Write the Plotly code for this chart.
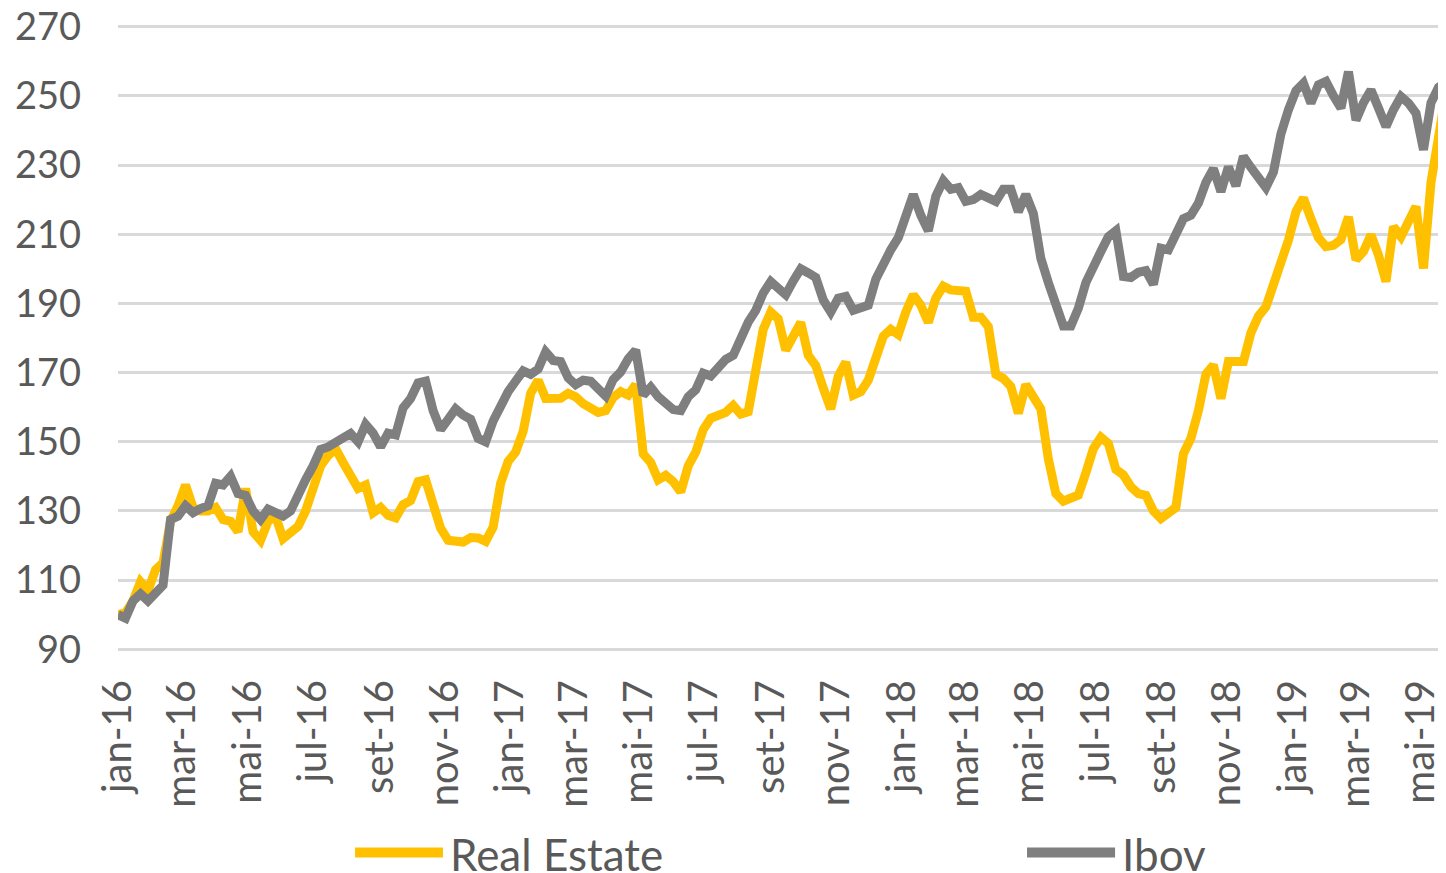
"""Real Estate vs Ibov, weekly index (base 100), jan-16 to mai-19"""

import pandas as pd
import plotly.graph_objects as go

# weekly closes, base 100 on 2016-01-01
dates = pd.date_range("2016-01-01", periods=178, freq="7D")

real_estate = [
    100, 100.5, 104, 109.5, 107, 113, 115, 127, 131.5, 137.5,
    131, 130, 130, 131, 127.5, 127, 124, 136.5, 124, 121.5,
    127, 128.5, 122, 123.8, 125.5, 130, 136.5, 143, 146, 148,
    144, 139.5, 136.5, 137.5, 129.5, 131, 128.7, 128, 131.8, 133,
    138.5, 139, 132, 125, 121.5, 121, 121, 122.3, 122.2, 121.2,
    125.3, 138, 144.3, 147, 153, 164, 167.8, 162.5, 162.5, 162.6,
    164, 163, 161, 159.8, 158.5, 159, 162.8, 164.5, 163.5, 166.5,
    146.5, 144, 139, 140.3, 138.5, 135.5, 143, 147, 153.5, 156.8,
    157.7, 158.5, 160.5, 158, 158.7, 172, 182.5, 187.5, 185.5, 176.5,
    181, 184.5, 175, 172, 165.5, 159.5, 169, 173, 163.5, 164.5,
    167.8, 175, 180.5, 182.5, 181, 187.5, 192.5, 189.5, 184.5, 191.5,
    195, 193.9, 193.9, 193.5, 186, 186, 183.3, 169.5, 168.3, 166,
    158.2, 166.5, 163, 159.5, 145, 135, 132.8, 133.5, 134.6, 141,
    148, 151.3, 149.5, 142, 140.4, 137, 135, 134.5, 130, 127.8,
    129.3, 131, 146.5, 151, 159, 169.5, 172.2, 162.5, 173.2, 173.2,
    173.2, 181.5, 186.3, 189, 195, 201, 208.3, 216.5, 220.5, 214.5,
    209, 206.4, 206.8, 208.5, 215, 202.6, 205, 209.8, 204, 196.3,
    212.2, 209.3, 214, 218, 200.1, 225, 238, 251.3,
]

ibov = [
    100, 99, 104, 106, 104, 106.5, 108.5, 127.5, 128.5, 131.5,
    129.5, 130.7, 131.5, 138, 137.5, 140, 135, 134.5, 130, 127.5,
    130.5, 129.5, 128.5, 130, 135, 139, 143, 147.8, 148.5, 149.6,
    151, 152.4, 150, 155, 152.5, 148.5, 152.5, 152, 159.8, 162.5,
    167, 167.5, 159, 153.5, 156.5, 159.5, 157.7, 156.5, 151, 150,
    156, 160.5, 164.5, 167.5, 170.5, 169.5, 171, 176, 173.5, 173.2,
    168.5, 166.5, 167.8, 167.5, 165.5, 163.2, 168, 170.2, 174, 176.5,
    163.5, 165.8, 163, 161, 159.3, 159, 163, 165, 169.8, 169,
    171.7, 173.8, 175, 180.3, 184.6, 188, 193, 196.3, 194, 192.5,
    196.5, 200, 198.8, 197.5, 191, 187.5, 191.5, 192, 188, 188.5,
    189.5, 197, 202, 205.5, 209, 216, 221.5, 215.5, 211, 221,
    225.5, 223, 223.5, 219.5, 220, 221.5, 220.5, 219.5, 223, 223,
    216.5, 221.5, 216, 203, 196, 189, 183.5, 183.5, 188.6, 196,
    201.3, 205, 209.3, 211, 197.8, 197.5, 199, 199.5, 195.5, 206,
    205.5, 210, 214.5, 215.5, 219, 225, 229, 222.3, 229.5, 224,
    232.5, 229.3, 226.5, 223.5, 228, 239, 246, 251.5, 253.7, 247.9,
    253.2, 254.2, 250, 246.5, 257, 243, 248, 251.7, 246.5, 241.1,
    246, 249.8, 247.9, 245, 234.4, 248, 252.5, 254,
]

tick_dates = [
    "2016-01-01", "2016-03-01", "2016-05-01", "2016-07-01", "2016-09-01", "2016-11-01",
    "2017-01-01", "2017-03-01", "2017-05-01", "2017-07-01", "2017-09-01", "2017-11-01",
    "2018-01-01", "2018-03-01", "2018-05-01", "2018-07-01", "2018-09-01", "2018-11-01",
    "2019-01-01", "2019-03-01", "2019-05-01",
]
tick_labels = [
    "jan-16", "mar-16", "mai-16", "jul-16", "set-16", "nov-16",
    "jan-17", "mar-17", "mai-17", "jul-17", "set-17", "nov-17",
    "jan-18", "mar-18", "mai-18", "jul-18", "set-18", "nov-18",
    "jan-19", "mar-19", "mai-19",
]
y_ticks = [90, 110, 130, 150, 170, 190, 210, 230, 250, 270]

YELLOW = "#FFC000"
GREY = "#7F7F7F"
TEXT = "#595959"
FONT = "Lato"

fig = go.Figure()
fig.add_trace(go.Scatter(x=dates, y=real_estate, mode="lines", name="Real Estate",
                         line=dict(color=YELLOW, width=9)))
fig.add_trace(go.Scatter(x=dates, y=ibov, mode="lines", name="Ibov",
                         line=dict(color=GREY, width=9)))

# legend drawn by hand so the swatches are as long as the original ones
legend_y = -0.322
legend_items = [("Real Estate", YELLOW, 0.1785, 0.2447), ("Ibov", GREY, 0.6845, 0.7508)]
for label, color, x0, x1 in legend_items:
    fig.add_shape(type="line", xref="paper", yref="paper", x0=x0, x1=x1, y0=legend_y, y1=legend_y,
                  line=dict(color=color, width=10))
    fig.add_annotation(text=label, xref="paper", yref="paper", x=x1 + 0.004, y=legend_y - 0.003,
                       xanchor="left", yanchor="middle", showarrow=False,
                       font=dict(family=FONT, size=44, color=TEXT))

# the page body keeps its default 8px margin, so the figure is 8px smaller
# on each side and the plot area still lands where the original one is
fig.update_layout(
    width=1438, height=865,
    margin=dict(l=110, r=0, t=17, b=222),
    paper_bgcolor="white", plot_bgcolor="white",
    showlegend=False,
    font=dict(family=FONT, color=TEXT),
)
fig.update_xaxes(
    type="date", range=[dates[0], dates[-1]], automargin=False,
    tickmode="array", tickvals=tick_dates, ticktext=tick_labels,
    tickangle=-90, tickfont=dict(size=40, color=TEXT),
    showgrid=False, zeroline=False, showline=False, ticks="",
    ticklabelstandoff=20, ticklabeloverflow="allow",
)
# padding so the 90 and 270 gridlines are not dropped at the range ends
fig.update_yaxes(
    range=[89.5, 270.5], automargin=False, tickmode="array", tickvals=y_ticks,
    tickfont=dict(size=38, color=TEXT),
    showgrid=True, gridcolor="#D9D9D9", gridwidth=2.5,
    zeroline=False, showline=False, ticks="",
    ticklabelstandoff=36, ticklabeloverflow="allow",
)

fig.write_html("out.html")
